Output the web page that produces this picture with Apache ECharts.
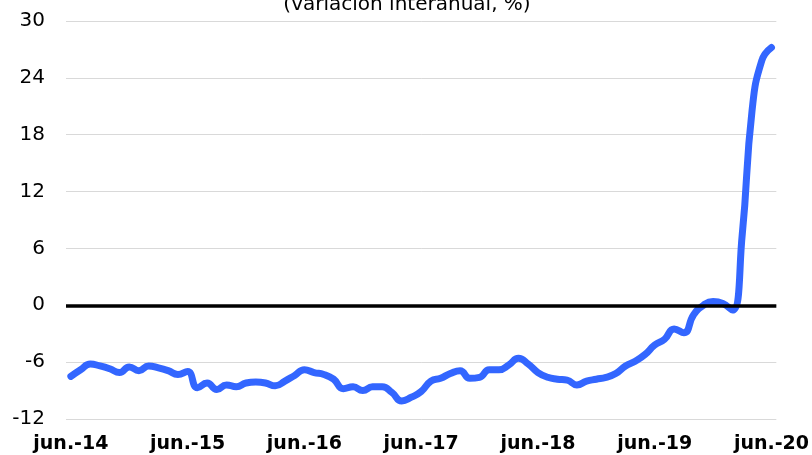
<!DOCTYPE html>
<html>
<head>
<meta charset="utf-8">
<script src="https://cdn.jsdelivr.net/npm/echarts@6/dist/echarts.min.js"></script>
<style>
  html, body { margin: 0; padding: 0; background: #fff; }
  #chart { width: 812px; height: 455px; }
</style>
</head>
<body>
<div id="chart"></div>
<script>
// monthly, jun-2014 .. jun-2020
const monthNames = ['jun.', 'jul.', 'ago.', 'sept.', 'oct.', 'nov.', 'dic.', 'ene.', 'feb.', 'mar.', 'abr.', 'may.'];
const months = [];
for (let i = 0; i < 73; i++) {
  const yr = 14 + Math.floor((i + 5) / 12);
  months.push(monthNames[i % 12] + '-' + yr);
}

const growth = [
  -7.5, -6.8, -6.2, -6.4, -6.7, -7.1, -6.5, -6.9, -6.4, -6.6, -6.9, -7.3,
  -7.0, -8.7, -8.2, -8.9, -8.4, -8.6, -8.2, -8.1, -8.2, -8.5, -8.0, -7.4,
  -6.8, -7.1, -7.3, -7.8, -8.8, -8.6, -9.0, -8.6, -8.6, -9.2, -10.1, -9.7,
  -9.1, -8.0, -7.7, -7.2, -6.9, -7.7, -7.6, -6.8, -6.8, -6.3, -5.6, -6.2,
  -7.1, -7.6, -7.8, -7.9, -8.4, -8.0, -7.8, -7.6, -7.2, -6.4, -5.9, -5.2,
  -4.2, -3.6, -2.5, -2.9, -1.0, 0.0, 0.4, 0.2, -0.5, 7.5, 20.5, 25.8,
  27.2
];

const yTicks = { min: -12, max: 30, step: 6 };
const titleText = '(variación interanual, %)';

const chart = echarts.init(document.getElementById('chart'));
chart.setOption({
  animation: false,
  title: {
    text: titleText,
    left: 402,
    top: -10,
    textAlign: 'center',
    textStyle: { fontFamily: 'DejaVu Sans', fontSize: 20, fontWeight: 'normal', color: '#000' },
  },
  grid: { left: 66, right: 33, top: 21, bottom: 36, containLabel: false },
  xAxis: {
    type: 'category',
    data: months,
    boundaryGap: true,
    axisLine: { show: false },
    axisTick: { show: false },
    axisLabel: {
      interval: 11,
      margin: 16,
      color: '#000',
      fontFamily: 'DejaVu Sans',
      fontWeight: 'bold',
      fontSize: 19,
    },
  },
  yAxis: {
    type: 'value',
    min: yTicks.min,
    max: yTicks.max,
    interval: yTicks.step,
    axisLine: { show: false },
    axisTick: { show: false },
    axisLabel: { margin: 21, color: '#000', fontFamily: 'DejaVu Sans', fontSize: 20 },
    splitLine: { lineStyle: { color: '#d9d9d9', width: 1 } },
  },
  series: [
    {
      type: 'line',
      data: [],
      z: 1,
      silent: true,
      markLine: {
        symbol: 'none',
        silent: true,
        label: { show: false },
        lineStyle: { color: '#000', width: 3.5, type: 'solid' },
        data: [{ yAxis: 0 }],
      },
    },
    {
      type: 'line',
      data: growth,
      z: 3,
      smooth: 0.5,
      showSymbol: false,
      lineStyle: { color: '#3366ff', width: 7, cap: 'round', join: 'round' },
    },
  ],
});
</script>
</body>
</html>
